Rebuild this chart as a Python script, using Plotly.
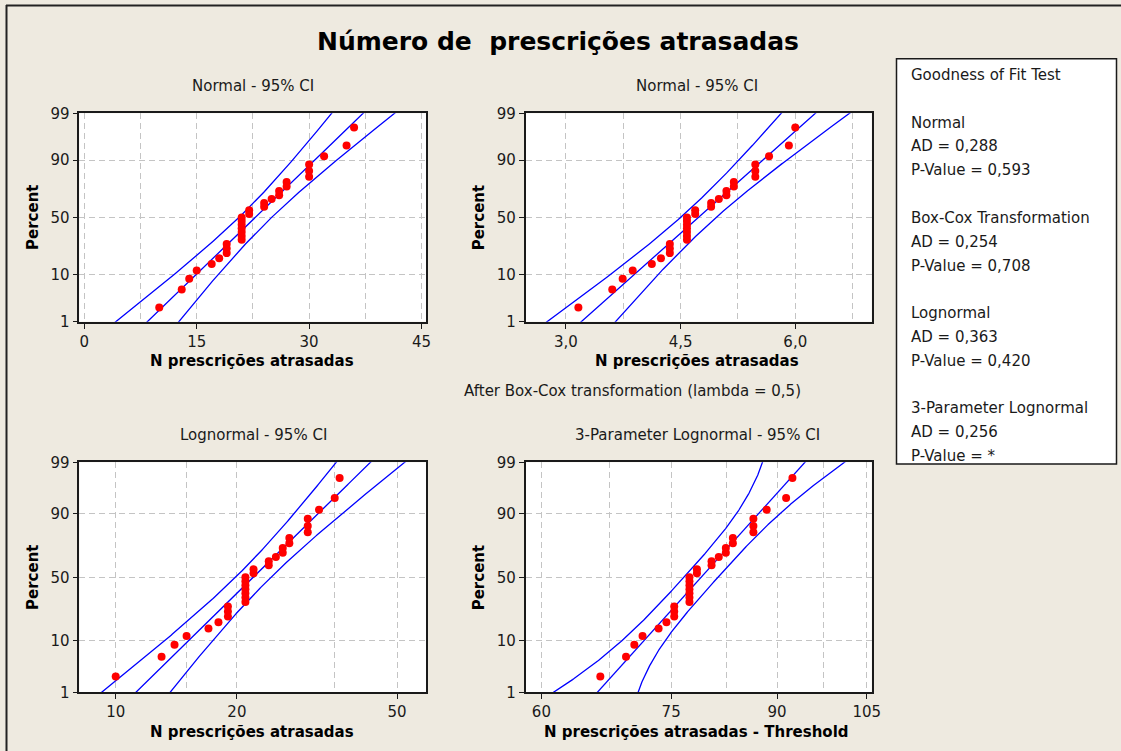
import numpy as np
import plotly.graph_objects as go
from statistics import NormalDist

# ---------------------------------------------------------------- data
# Delayed prescriptions per observation (n = 31)
counts = [10, 13, 14, 15, 17, 18, 19, 19, 19,
          21, 21, 21, 21, 21, 21, 21, 22, 22,
          24, 24, 25, 26, 26, 27, 27,
          30, 30, 30, 32, 35, 36]
boxcox_lambda = 0.5
threshold = -56.4          # fitted threshold of the 3-parameter lognormal

percent_ticks = [1, 10, 50, 90, 99]
percent_labels = ["1", "10", "50", "90", "99"]

panel_titles = ["Normal - 95% CI", "Normal - 95% CI",
                "Lognormal - 95% CI", "3-Parameter Lognormal - 95% CI"]
x_titles = ["N prescrições atrasadas", "N prescrições atrasadas",
            "N prescrições atrasadas", "N prescrições atrasadas - Threshold"]

x1_ticks, x1_labels, x1_grid = [0, 15, 30, 45], ["0", "15", "30", "45"], 7.5
x2_ticks, x2_labels, x2_grid = [3.0, 4.5, 6.0], ["3,0", "4,5", "6,0"], 0.75
x3_ticks, x3_labels, x3_grid = [10, 20, 50], ["10", "20", "50"], [15, 35]
x4_ticks, x4_labels, x4_grid = [60, 75, 90, 105], ["60", "75", "90", "105"], [67.5, 82.5, 97.5]

gof_lines = ["Goodness of Fit Test", "",
             "Normal", "AD = 0,288", "P-Value = 0,593", "",
             "Box-Cox Transformation", "AD = 0,254", "P-Value = 0,708", "",
             "Lognormal", "AD = 0,363", "P-Value = 0,420", "",
             "3-Parameter Lognormal", "AD = 0,256", "P-Value = *"]

main_title = "Número de\u00a0\u00a0prescrições atrasadas"

# ---------------------------------------------------------------- stats
W, H = 1121, 751
nd = NormalDist()
x = np.sort(np.array(counts, dtype=float))
n = len(x)
ranks = np.arange(1, n + 1)
z_pts = np.array([nd.inv_cdf(p) for p in (ranks - 0.3) / (n + 0.4)])
z_lo, z_hi = nd.inv_cdf(0.01), nd.inv_cdf(0.99)
z_grid = np.linspace(z_lo - 0.12, z_hi + 0.12, 300)
z_ticks = [nd.inv_cdf(p / 100) for p in percent_ticks]
z95 = nd.inv_cdf(0.975)


def normal_fit(v):
    mu, s = v.mean(), v.std(ddof=1)
    centre = mu + s * z_grid
    half = z95 * s * np.sqrt(1 / n + z_grid ** 2 / (2 * n))
    return centre, centre - half, centre + half


# 3-parameter lognormal: percentiles and delta-method bands
u = x - threshold
ly = np.log(u)
mu3, s3 = ly.mean(), ly.std()
a = np.exp(-mu3 + s3 ** 2 / 2)
info = n * np.array([
    [a ** 2 * np.exp(s3 ** 2) * (1 + s3 ** 2) / s3 ** 2, a / s3 ** 2, -2 * a / s3],
    [a / s3 ** 2, 1 / s3 ** 2, 0.0],
    [-2 * a / s3, 0.0, 2 / s3 ** 2],
])
cov = np.linalg.inv(info)
e = np.exp(mu3 + s3 * z_grid)
g = np.vstack([np.ones_like(z_grid), e, z_grid * e])
sd4 = np.sqrt(np.abs(np.einsum("ik,ij,jk->k", g, cov, g)))
c4, lo4, hi4 = e, e - z95 * sd4, e + z95 * sd4

bc = x ** boxcox_lambda
c1, lo1, hi1 = normal_fit(x)
c2, lo2, hi2 = normal_fit(bc)
c3, lo3, hi3 = [np.exp(v) for v in normal_fit(np.log(x))]

panels = [
    (x, c1, lo1, hi1),
    (bc, c2, lo2, hi2),
    (x, c3, lo3, hi3),
    (u, c4, lo4, hi4),
]

# ---------------------------------------------------------------- figure
fig = go.Figure()
BLUE, RED = "#0000FF", "#FF0000"
for k, (pts, cc, lo, hi) in enumerate(panels):
    xa = "x" if k == 0 else f"x{k + 1}"
    ya = "y" if k == 0 else f"y{k + 1}"
    for curve in (lo, cc, hi):
        fig.add_trace(go.Scatter(x=curve, y=z_grid, mode="lines",
                                 line=dict(color=BLUE, width=1.3),
                                 xaxis=xa, yaxis=ya, hoverinfo="skip",
                                 showlegend=False))
    fig.add_trace(go.Scatter(x=pts, y=z_pts, mode="markers",
                             marker=dict(color=RED, size=8),
                             xaxis=xa, yaxis=ya, showlegend=False,
                             cliponaxis=False))


def fx(px):
    return px / W


def fy(py):
    return 1 - py / H


FONT = "DejaVu Sans"
GRID = dict(gridcolor="#C4C4C4", griddash="6px,4px")
frame = dict(showline=True, linecolor="#1a1a1a", linewidth=1.6, mirror=True,
             ticks="outside", ticklen=5, tickwidth=1, tickcolor="#1a1a1a",
             showgrid=True, gridwidth=1, zeroline=False, automargin=False,
             tickfont=dict(family=FONT, size=15, color="#1a1a1a"),
             fixedrange=True, **GRID)

top = (113.3, 321.7)
bottom = (462.3, 692.3)
left = (79.3, 426.0)
right = (525.7, 871.7)
boxes = [(left, top), (right, top), (left, bottom), (right, bottom)]


def ydom(b):
    return [fy(b[1]), fy(b[0])]


def xdom(c):
    return [fx(c[0]), fx(c[1])]


xaxes = [
    dict(type="linear", range=[-0.67, 45.6], tickvals=x1_ticks, ticktext=x1_labels,
         minor=dict(dtick=x1_grid, tick0=0, showgrid=True, ticklen=0, **GRID)),
    dict(type="linear", range=[2.473, 7.0], tickvals=x2_ticks, ticktext=x2_labels,
         minor=dict(dtick=x2_grid, tick0=3.0, showgrid=True, ticklen=0, **GRID)),
    dict(type="log", range=[np.log10(8.12), np.log10(59.0)], tickvals=x3_ticks,
         ticktext=x3_labels,
         minor=dict(tickmode="array", tickvals=x3_grid, showgrid=True, ticklen=0, **GRID)),
    dict(type="log", range=[np.log10(58.4), np.log10(105.9)], tickvals=x4_ticks,
         ticktext=x4_labels,
         minor=dict(tickmode="array", tickvals=x4_grid, showgrid=True, ticklen=0, **GRID)),
]

layout = {}
for k, ((xa_px, ya_px), xspec) in enumerate(zip(boxes, xaxes)):
    sfx = "" if k == 0 else str(k + 1)
    layout[f"xaxis{sfx}"] = dict(frame, domain=xdom(xa_px),
                                 anchor=f"y{sfx}", **xspec)
    layout[f"yaxis{sfx}"] = dict(frame, domain=ydom(ya_px), anchor=f"x{sfx}",
                                 range=[z_lo - 1e-6, z_hi + 1e-6],
                                 tickvals=z_ticks, ticktext=percent_labels)

fig.update_layout(**layout)

ann = []
ann.append(dict(text=f"<b>{main_title}</b>", x=fx(558), y=fy(41), xref="paper",
                yref="paper", showarrow=False,
                font=dict(family=FONT, size=25, color="#000"),
                xanchor="center", yanchor="middle"))
title_pos = [(252.7, 86), (696.7, 86), (253, 435), (697.7, 435)]
xtitle_pos = [(251.8, 361), (696.7, 361), (251.8, 732.3), (696.7, 732.3)]
ytitle_pos = [(33, 218), (479.3, 218), (33, 578), (479.3, 578)]
for k in range(4):
    ann.append(dict(text=panel_titles[k], x=fx(title_pos[k][0]), y=fy(title_pos[k][1]),
                    xref="paper", yref="paper", showarrow=False,
                    font=dict(family=FONT, size=15, color="#1a1a1a"),
                    xanchor="center", yanchor="middle"))
    ann.append(dict(text=f"<b>{x_titles[k]}</b>", x=fx(xtitle_pos[k][0]),
                    y=fy(xtitle_pos[k][1]), xref="paper", yref="paper",
                    showarrow=False, font=dict(family=FONT, size=15, color="#000"),
                    xanchor="center", yanchor="middle"))
    ann.append(dict(text="<b>Percent</b>", x=fx(ytitle_pos[k][0]), y=fy(ytitle_pos[k][1]),
                    xref="paper", yref="paper", showarrow=False, textangle=-90,
                    font=dict(family=FONT, size=15, color="#000"),
                    xanchor="center", yanchor="middle"))

lam_txt = str(boxcox_lambda).replace(".", ",")
ann.append(dict(text=f"After Box-Cox transformation (lambda = {lam_txt})",
                x=fx(632), y=fy(391), xref="paper", yref="paper", showarrow=False,
                font=dict(family=FONT, size=15, color="#1a1a1a"),
                xanchor="center", yanchor="middle"))

# goodness-of-fit summary box
y0, step = 75, (456 - 75) / (len(gof_lines) - 1)
for i, line in enumerate(gof_lines):
    if not line:
        continue
    ann.append(dict(text=line, x=fx(909), y=fy(y0 + i * step), xref="paper",
                    yref="paper", showarrow=False, xanchor="left", yanchor="middle",
                    font=dict(family=FONT, size=15, color="#1a1a1a")))

shapes = [
    dict(type="rect", xref="paper", yref="paper", x0=fx(896.5), x1=fx(1116.5),
         y0=fy(464), y1=fy(58.7), fillcolor="white",
         line=dict(color="#1a1a1a", width=1.5), layer="below"),
    dict(type="line", xref="paper", yref="paper", x0=fx(6), x1=1, y0=fy(5.5), y1=fy(5.5),
         line=dict(color="#222", width=2)),
    dict(type="line", xref="paper", yref="paper", x0=fx(6.5), x1=fx(6.5), y0=0, y1=fy(5),
         line=dict(color="#222", width=2)),
]

fig.update_layout(width=W, height=H, margin=dict(l=0, r=0, t=0, b=0, pad=0),
                  paper_bgcolor="#EEEAE0", plot_bgcolor="white",
                  annotations=ann, shapes=shapes, showlegend=False)

fig.write_html("out.html")
